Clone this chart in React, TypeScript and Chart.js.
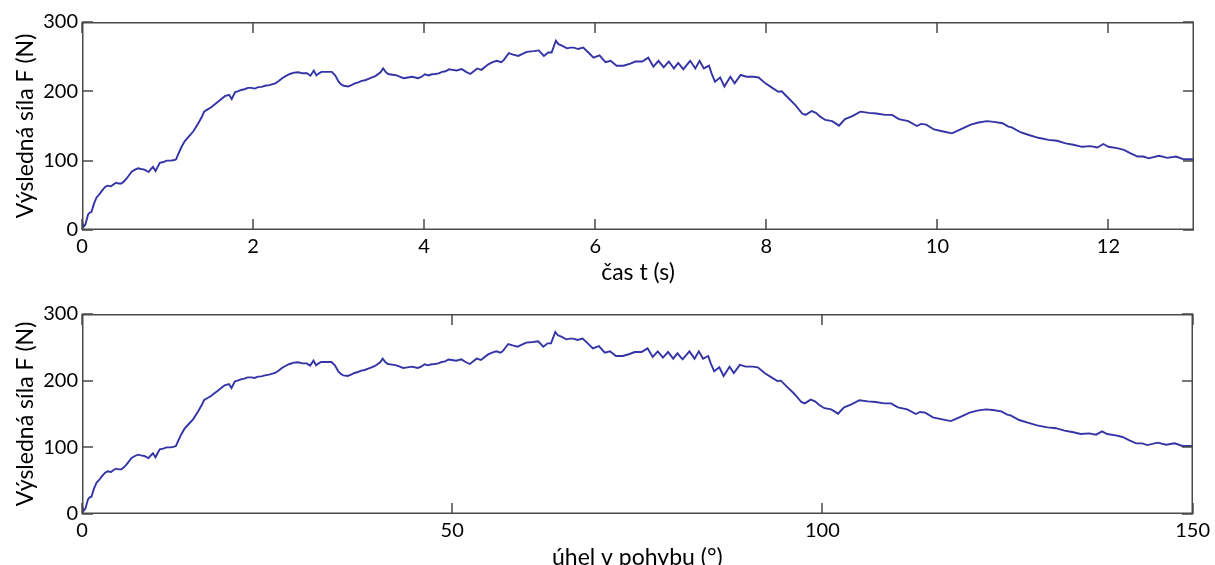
import React, { useEffect, useRef } from "react";
import { Chart, registerables } from "chart.js";

Chart.register(...registerables);

// time samples (s)
const times = [
  0.0, 0.02, 0.04, 0.07, 0.09, 0.11, 0.14, 0.17, 0.2, 0.23, 0.27, 0.3, 0.34, 0.37, 0.4, 0.43,
  0.46, 0.49, 0.52, 0.55, 0.58, 0.62, 0.655, 0.69, 0.73, 0.76, 0.78, 0.8, 0.83, 0.86, 0.88, 0.91,
  0.95, 0.99, 1.04, 1.08, 1.1, 1.12, 1.16, 1.2, 1.25, 1.3, 1.36, 1.4, 1.43, 1.47, 1.51, 1.55,
  1.59, 1.63, 1.67, 1.72, 1.75, 1.79, 1.82, 1.86, 1.9, 1.94, 1.98, 2.02, 2.06, 2.1, 2.14, 2.19,
  2.26, 2.3, 2.34, 2.38, 2.43, 2.48, 2.53, 2.58, 2.63, 2.67, 2.71, 2.74, 2.77, 2.8, 2.86, 2.92,
  2.96, 3.0, 3.03, 3.06, 3.11, 3.15, 3.19, 3.23, 3.27, 3.31, 3.35, 3.39, 3.43, 3.49, 3.52, 3.55,
  3.58, 3.63, 3.68, 3.72, 3.76, 3.81, 3.86, 3.93, 3.97, 4.01, 4.05, 4.09, 4.13, 4.17, 4.21, 4.25,
  4.29, 4.33, 4.38, 4.44, 4.49, 4.54, 4.58, 4.62, 4.67, 4.71, 4.75, 4.8, 4.85, 4.9, 4.93, 4.99,
  5.04, 5.1, 5.15, 5.2, 5.28, 5.34, 5.4, 5.45, 5.49, 5.54, 5.57, 5.61, 5.67, 5.71, 5.75, 5.8,
  5.86, 5.92, 5.98, 6.05, 6.12, 6.18, 6.25, 6.33, 6.41, 6.47, 6.55, 6.62, 6.68, 6.74, 6.8, 6.86,
  6.92, 6.97, 7.03, 7.11, 7.17, 7.22, 7.27, 7.33, 7.36, 7.4, 7.46, 7.51, 7.58, 7.63, 7.7, 7.77,
  7.85, 7.91, 7.99, 8.07, 8.14, 8.18, 8.26, 8.34, 8.42, 8.46, 8.53, 8.58, 8.63, 8.69, 8.77, 8.85,
  8.92, 9.0, 9.1, 9.2, 9.29, 9.39, 9.47, 9.55, 9.66, 9.76, 9.81, 9.87, 9.96, 10.07, 10.17, 10.27,
  10.39, 10.48, 10.58, 10.66, 10.76, 10.83, 10.87, 10.97, 11.07, 11.18, 11.3, 11.4, 11.5, 11.59,
  11.69, 11.79, 11.87, 11.94, 12.0, 12.1, 12.18, 12.26, 12.34, 12.41, 12.47, 12.59, 12.69, 12.79,
  12.88, 13.0,
];

// resulting force F (N) at each sample
const forces = [
  12, 5, 8, 22, 25, 26, 38, 47, 51, 56, 62, 64, 63, 66, 68, 67,
  67, 70, 74, 79, 84, 87, 89, 88, 87, 85, 84, 87, 91, 85, 90, 97,
  98, 100, 100, 101, 102, 108, 119, 128, 135, 142, 154, 163, 171, 174, 177, 181,
  185, 189, 193, 195, 189, 199, 200, 202, 203, 205, 205, 204, 206, 206.5, 208, 209,
  211.5, 215, 219, 222, 225, 227, 227.5, 226, 226, 222.6, 230, 223, 226, 228, 228, 228,
  223, 214, 210, 208, 207, 209, 211.5, 213, 215, 216, 218, 220, 222, 227.5, 233, 228,
  225, 224, 223, 221, 219, 220, 221, 219, 221, 224.6, 223, 224.6, 225, 226, 228, 229,
  231.7, 231, 230, 232, 228, 225, 229, 233, 231, 235, 239, 242, 244, 242, 245, 255,
  253, 251, 254, 257, 258, 259, 251, 256, 256, 273, 268, 266, 262, 263, 263, 261,
  263, 256, 248.5, 252, 242, 244, 237, 237, 240, 243, 243, 248.5, 235.6, 244, 234.7, 243,
  233, 241, 232, 244, 233, 244, 233, 237, 226, 214, 220, 207, 221, 211.5, 223.6, 221,
  221, 220, 211.5, 205, 199.5, 200, 190, 180, 168, 166, 171.6, 169, 163.5, 158.7, 157, 150.5,
  160, 164, 170.7, 169, 168, 166, 166, 160, 157, 150, 153, 152, 145, 142, 139.4, 145,
  152, 155, 157, 156, 154, 149, 148, 141, 137, 133, 130, 128.7, 125, 123,
  120, 121, 119, 124, 120, 118, 115.5, 110.6, 106, 106, 103.4, 107, 104, 106,
  102, 102,
];

// angle of motion: 150° reached over the 13 s recording
const DEG_PER_S = 150 / 13;
const angles = times.map((t) => t * DEG_PER_S);

const timeTicks = [0, 2, 4, 6, 8, 10, 12];
const angleTicks = [0, 50, 100, 150];
const forceTicks = [0, 100, 200, 300];

const FONT = "Lato, 'Open Sans', sans-serif";
const LINE_COLOR = "#3434a6";
const FRAME_COLOR = "#4a4a4a";
const TICK_SIZE = 20;
const TITLE_SIZE = 23;

function drawFrame(chart: any) {
  const ctx = chart.ctx;
  const a = chart.chartArea;
  const xs = chart.scales.x;
  const ys = chart.scales.y;
  ctx.save();
  ctx.strokeStyle = FRAME_COLOR;
  ctx.fillStyle = FRAME_COLOR;
  const W = 2;
  const L = 11;
  const left = Math.round(a.left);
  const right = Math.round(a.right);
  const top = Math.round(a.top);
  const bottom = Math.round(a.bottom);
  // frame (filled rectangles so they stay crisp)
  ctx.fillRect(left, top, right - left, W - 0.5);
  ctx.fillRect(left, bottom - W + 0.5, right - left, W - 0.5);
  ctx.fillRect(left, top, W - 0.5, bottom - top);
  ctx.fillRect(right - W + 0.5, top, W - 0.5, bottom - top);
  for (let i = 0; i < xs.ticks.length; i++) {
    const px = Math.round(xs.getPixelForValue(xs.ticks[i].value));
    ctx.fillRect(px - 0.75, bottom - L, W - 0.5, L);
    ctx.fillRect(px - 0.75, top, W - 0.5, L);
  }
  for (let i = 0; i < ys.ticks.length; i++) {
    const py = Math.round(ys.getPixelForValue(ys.ticks[i].value));
    ctx.fillRect(left, py - 0.75, L, W - 0.5);
    ctx.fillRect(right - L, py - 0.75, L, W - 0.5);
  }
  ctx.restore();
}

const frameTicks = {
  id: "frameTicksPlugin",
  afterDraw(chart: any) {
    drawFrame(chart);
  },
};

type Props = {
  xs: number[];
  xMax: number;
  xTicks: number[];
  xTitle: string;
  top: number;
  padTop: number;
  axisH: number;
  titlePad: number;
};

const CANVAS_W = 1215;
const CANVAS_H = 290;

function ForceChart({ xs, xMax, xTicks, xTitle, top, padTop, axisH, titlePad }: Props) {
  const ref = useRef<HTMLCanvasElement | null>(null);
  useEffect(() => {
    if (!ref.current) return;
    const data = xs.map((x, i) => ({ x, y: forces[i] }));
    const chart = new Chart(ref.current, {
      type: "line",
      data: {
        datasets: [
          {
            data,
            borderColor: LINE_COLOR,
            borderWidth: 1.9,
            pointRadius: 0,
            tension: 0,
            fill: false,
          },
        ],
      },
      options: {
        animation: false,
        responsive: false,
        maintainAspectRatio: false,
        layout: { padding: { top: padTop, right: 21, left: 0, bottom: 0 } },
        plugins: { legend: { display: false }, tooltip: { enabled: false } },
        scales: {
          x: {
            type: "linear",
            min: 0,
            max: xMax,
            grid: { display: false, drawTicks: false },
            border: { display: false },
            afterBuildTicks: (s: any) => {
              s.ticks = xTicks.map((v) => ({ value: v }));
            },
            afterFit: (s: any) => {
              s.height = axisH;
            },
            ticks: {
              color: "#000",
              padding: 5,
              maxRotation: 0,
              autoSkip: false,
              font: { family: FONT, size: TICK_SIZE },
            },
            title: {
              display: true,
              text: xTitle,
              color: "#000",
              padding: { top: 0, bottom: titlePad },
              font: { family: FONT, size: TITLE_SIZE },
            },
          },
          y: {
            type: "linear",
            min: 0,
            max: 300,
            grid: { display: false, drawTicks: false },
            border: { display: false },
            afterBuildTicks: (s: any) => {
              s.ticks = forceTicks.map((v) => ({ value: v }));
            },
            afterFit: (s: any) => {
              s.width = 82;
            },
            ticks: {
              color: "#000",
              padding: 4,
              font: { family: FONT, size: TICK_SIZE },
            },
            title: {
              display: true,
              text: "Výsledná síla F (N)",
              color: "#000",
              padding: { top: 12, bottom: 0 },
              font: { family: FONT, size: TITLE_SIZE },
            },
          },
        },
      },
      plugins: [frameTicks],
    } as any);
    return () => chart.destroy();
  }, []);
  return (
    <canvas
      ref={ref}
      width={CANVAS_W}
      height={CANVAS_H}
      style={{ position: "absolute", left: 0, top, width: CANVAS_W, height: CANVAS_H }}
    />
  );
}

export default function App() {
  return (
    <div
      style={{
        position: "absolute",
        left: 0,
        top: 0,
        width: 1215,
        height: 565,
        overflow: "hidden",
        background: "#fff",
      }}
    >
      <ForceChart xs={times} xMax={13} xTicks={timeTicks} xTitle="čas t (s)" top={0} padTop={22} axisH={60} titlePad={4} />
      <ForceChart xs={angles} xMax={150} xTicks={angleTicks} xTitle="úhel v pohybu (°)" top={290} padTop={24} axisH={66} titlePad={9} />
    </div>
  );
}
